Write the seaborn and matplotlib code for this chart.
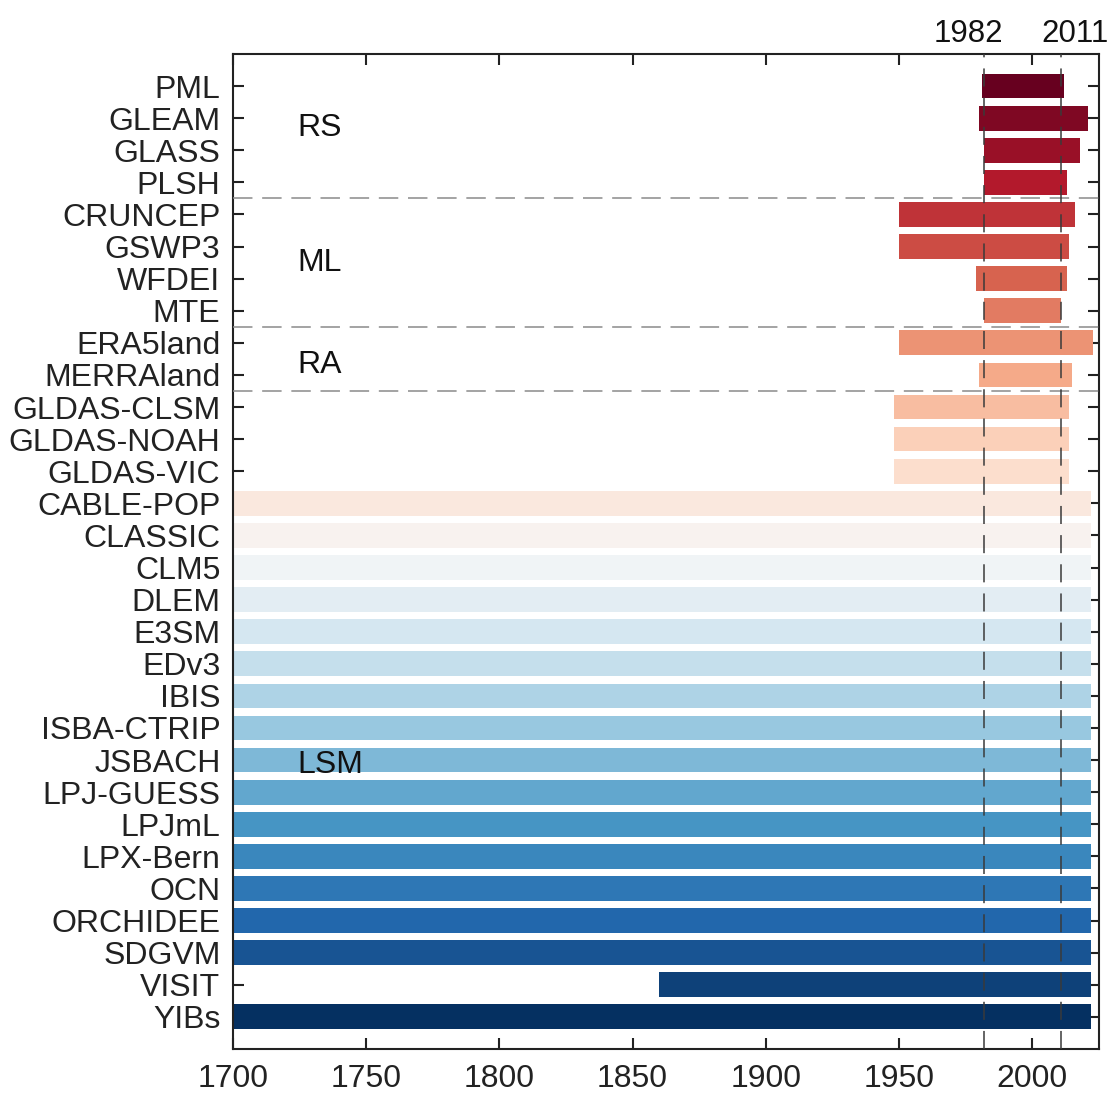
import numpy as np
import pandas as pd
import matplotlib
matplotlib.use("Agg")
import matplotlib.pyplot as plt
from matplotlib import transforms
import seaborn as sns

# Dataset names, top to bottom
names = ["PML", "GLEAM", "GLASS", "PLSH", "CRUNCEP", "GSWP3", "WFDEI", "MTE",
         "ERA5land", "MERRAland", "GLDAS-CLSM", "GLDAS-NOAH", "GLDAS-VIC",
         "CABLE-POP", "CLASSIC", "CLM5", "DLEM", "E3SM", "EDv3", "IBIS",
         "ISBA-CTRIP", "JSBACH", "LPJ-GUESS", "LPJmL", "LPX-Bern", "OCN",
         "ORCHIDEE", "SDGVM", "VISIT", "YIBs"]

# Temporal coverage of each dataset (start and end year)
start_year = [1981, 1980, 1982, 1982, 1950, 1950, 1979, 1982,
              1950, 1980, 1948, 1948, 1948,
              1700, 1700, 1700, 1700, 1700, 1700, 1700,
              1700, 1700, 1700, 1700, 1700, 1700,
              1700, 1700, 1860, 1700]
end_year = [2012, 2021, 2018, 2013, 2016, 2014, 2013, 2011,
            2023, 2015, 2014, 2014, 2014,
            2022, 2022, 2022, 2022, 2022, 2022, 2022,
            2022, 2022, 2022, 2022, 2022, 2022,
            2022, 2022, 2022, 2022]

# Product groups and where their labels sit (row position)
group_names = ["RS", "ML", "RA", "LSM"]
group_rows = [1.3, 5.5, 8.7, 21.15]
group_bounds = [3.5, 7.5, 9.5]  # separators between groups
ref_years = [1982, 2011]
xticks = [1700, 1750, 1800, 1850, 1900, 1950, 2000]

df = pd.DataFrame({"name": names, "start": start_year, "end": end_year})
df["span"] = df["end"] - df["start"]

sns.set_theme(style="ticks")
plt.rcParams["font.family"] = ["Liberation Sans", "DejaVu Sans"]
plt.rcParams["lines.scale_dashes"] = False

colors = [matplotlib.colormaps["RdBu"](v) for v in np.linspace(0, 1, len(names))]

fig = plt.figure(figsize=(11.11, 10.93), dpi=100)
ax = fig.add_axes([0.2097, 0.0403, 0.7793, 0.9103])

sns.barplot(data=df, y="name", x="span", hue="name", palette=colors,
            order=names, hue_order=names, orient="h", width=0.77,
            saturation=1, legend=False, linewidth=0, ax=ax)

# shift each bar so it starts at the dataset's first year
for patch, s, w in zip(ax.patches, df["start"], df["span"]):
    patch.set_x(s)
    patch.set_width(w)

ax.set_xlim(1700, 2025)
ax.set_ylim(len(names), -1)
ax.set_xlabel("")
ax.set_ylabel("")
ax.set_xticks(xticks)
ax.set_xticklabels([str(t) for t in xticks])

for yb in group_bounds:
    ax.axhline(yb, color="#8a8a8a", lw=1.1, dashes=(14, 7), zorder=3)
for xv in ref_years:
    ax.axvline(xv, color="#3a3a3a", lw=1.1, dashes=(13, 8), zorder=4)

for g, r in zip(group_names, group_rows):
    ax.text(1724, r, g, fontsize=23, color="#111111", ha="left",
            va="center", zorder=5)

# reference-year labels above the frame
base = transforms.blended_transform_factory(ax.transData, ax.transAxes)
offsets = [-11.5, 10]
for xv, dx in zip(ref_years, offsets):
    tr = transforms.offset_copy(base, fig=fig, x=dx, y=8.6, units="points")
    ax.text(xv, 1.0, str(xv), transform=tr, fontsize=22.5, color="#111111",
            ha="center", va="baseline")

for side in ["top", "right", "bottom", "left"]:
    ax.spines[side].set_visible(True)
    ax.spines[side].set_linewidth(1.5)
    ax.spines[side].set_color("#222222")

ax.tick_params(axis="both", direction="in", length=8, width=1.5,
               color="#222222", labelsize=23, labelcolor="#222222",
               top=True, right=True, labeltop=False, labelright=False)
ax.tick_params(axis="x", pad=11)
ax.tick_params(axis="y", pad=9)

fig.savefig("out.png", dpi=100, facecolor="white")
